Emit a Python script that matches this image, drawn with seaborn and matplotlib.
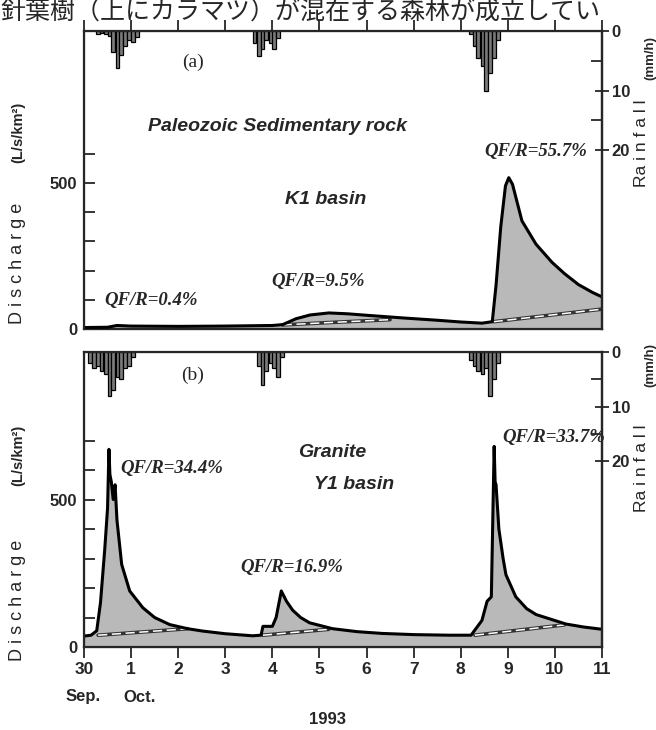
import numpy as np
import matplotlib
matplotlib.use('Agg')
import matplotlib.pyplot as plt
import seaborn as sns

sns.set_style('ticks')
plt.rcParams['font.family'] = ['Liberation Sans', 'DejaVu Sans']

# ---- DATA ----
# x = days after 30 Sep 1993 00:00

# (a) K1 basin discharge (L/s/km2)
k1_day = [0.0, 0.5, 0.7, 1.0, 2.0, 3.0, 4.0, 4.22, 4.5, 4.8, 5.2, 5.6, 6.0, 6.76, 7.5, 8.0,
          8.45, 8.67, 8.75, 8.85, 8.95, 9.02, 9.1, 9.3, 9.6, 9.94, 10.2, 10.5, 10.8, 11.0]
k1_q = [5, 6, 12, 10, 9, 10, 12, 15, 35, 48, 55, 52, 47, 38, 30, 24,
        20, 25, 150, 350, 490, 518, 495, 370, 290, 228, 190, 152, 125, 110]
# baseflow separation lines (a)
k1_sep1_day = [4.22, 5.2, 6.5]
k1_sep1_q = [14, 22, 32]
k1_sep2_day = [8.7, 11.0]
k1_sep2_q = [25, 68]

# (b) Y1 basin discharge (L/s/km2)
y1_day = [0.0, 0.15, 0.27, 0.35, 0.44, 0.50, 0.53, 0.55, 0.58, 0.62, 0.66, 0.70, 0.80, 0.97,
          1.25, 1.5, 1.82, 2.2, 2.52, 3.0, 3.58, 3.76, 3.8, 4.0, 4.08, 4.19, 4.3, 4.43, 4.6,
          4.79, 5.28, 5.8, 6.33, 7.0, 7.75, 8.22, 8.45, 8.56, 8.65, 8.71, 8.73, 8.75, 8.81,
          8.9, 8.96, 9.17, 9.4, 9.6, 10.23, 10.6, 11.0]
y1_q = [37, 40, 55, 150, 330, 470, 670, 585, 560, 500, 550, 430, 280, 190,
        133, 100, 76, 62, 54, 45, 38, 40, 70, 70, 100, 190, 155, 125, 100,
        82, 62, 52, 46, 42, 40, 40, 90, 155, 170, 680, 560, 550, 400,
        300, 245, 170, 130, 110, 78, 68, 60]
y1_sep1_day = [0.3, 2.2]
y1_sep1_q = [40, 62]
y1_sep2_day = [3.8, 5.2]
y1_sep2_q = [40, 60]
y1_sep3_day = [8.3, 10.2]
y1_sep3_q = [40, 75]

# rainfall (mm/h), 2-hour blocks, block start day
rain_a_day = [0.25, 0.33, 0.42, 0.50, 0.58, 0.67, 0.75, 0.83, 0.92, 1.00, 1.08,
              3.58, 3.67, 3.75, 3.83, 3.92, 4.00, 4.08,
              8.17, 8.25, 8.33, 8.42, 8.50, 8.58, 8.67, 8.75]
rain_a_mm = [0.5, 0.3, 0.5, 0.8, 3.5, 6.2, 4.0, 2.5, 1.5, 1.8, 1.0,
             2.0, 4.2, 3.0, 1.5, 2.0, 3.0, 1.2,
             0.5, 2.5, 4.5, 5.8, 10.0, 7.0, 4.5, 1.5]
rain_b_day = [0.08, 0.17, 0.25, 0.33, 0.42, 0.50, 0.58, 0.67, 0.75, 0.83, 0.92, 1.00,
              3.67, 3.75, 3.83, 3.92, 4.00, 4.08, 4.17,
              8.17, 8.25, 8.33, 8.42, 8.50, 8.58, 8.67, 8.75]
rain_b_mm = [2.0, 3.0, 2.5, 3.5, 4.0, 8.0, 7.0, 4.5, 5.0, 3.0, 2.5, 1.0,
             2.5, 6.0, 3.5, 2.0, 3.0, 4.5, 1.0,
             1.5, 2.5, 3.5, 4.0, 3.0, 8.0, 5.0, 2.0]

day_ticks = list(range(12))
day_labels = ['30', '1', '2', '3', '4', '5', '6', '7', '8', '9', '10', '11']

W, H = 656, 730
fig = plt.figure(figsize=(W / 100, H / 100), dpi=100)


def px_axes(left, top, right, bottom):
    return fig.add_axes([left / W, 1 - bottom / H, (right - left) / W, (bottom - top) / H])


def draw_panel(ax, day, q, seps, r_day, r_mm, qmax, rmax, minor_max):
    ax.fill_between(day, 0, q, color='#b9b9b9', lw=0, zorder=1)
    sns.lineplot(x=day, y=q, ax=ax, color='black', lw=2.2, zorder=3, sort=False)
    for sd, sq in seps:
        ax.plot(sd, sq, color='#333333', lw=2.6, zorder=2)
        ax.plot(sd, sq, color='white', lw=1.1, ls=(0, (6, 3)), zorder=2)
    ax.set_xlim(0, 11)
    ax.set_ylim(0, qmax)
    ax.set_yticks([0, 500])
    ax.set_yticklabels(['0', '500'], fontweight='bold', fontsize=12)
    ax.set_yticks(list(range(100, minor_max + 1, 100)), minor=True)
    ax.tick_params(axis='y', which='both', direction='in', length=8, width=1.3, pad=5,
                   left=True, right=False)
    for s in ax.spines.values():
        s.set_linewidth(1.6)
    ax.set_xlabel('')
    ax.set_ylabel('')

    ax2 = ax.twinx()
    ax2.bar(r_day, r_mm, width=0.083, align='edge', color='#7a7a7a',
            edgecolor='black', linewidth=0.9)
    ax2.set_ylim(rmax, 0)
    ax2.set_yticks([0, 10, 20])
    ax2.set_yticklabels(['0', '10', '20'], fontweight='bold', fontsize=12)
    ax2.set_yticks([5, 15], minor=True)
    ax2.tick_params(axis='y', which='major', direction='inout', length=10, width=1.3, pad=2)
    ax2.tick_params(axis='y', which='minor', direction='in', length=8, width=1.3)
    ax2.spines['right'].set_linewidth(1.6)
    return ax2


# (a)
ax_a = px_axes(84, 31, 602, 329)
draw_panel(ax_a, k1_day, k1_q, [(k1_sep1_day, k1_sep1_q), (k1_sep2_day, k1_sep2_q)],
           rain_a_day, rain_a_mm, 1020, 50, 600)
ax_a.set_xticks(day_ticks)
ax_a.tick_params(axis='x', which='both', top=True, bottom=False, labeltop=False,
                 labelbottom=False, direction='out', length=8, width=1.3)

# (b)
ax_b = px_axes(84, 352, 602, 647)
draw_panel(ax_b, y1_day, y1_q, [(y1_sep1_day, y1_sep1_q), (y1_sep2_day, y1_sep2_q),
                                 (y1_sep3_day, y1_sep3_q)],
           rain_b_day, rain_b_mm, 1000, 54, 700)
ax_b.set_xticks(day_ticks)
ax_b.set_xticklabels(day_labels, fontweight='bold', fontsize=12.5)
ax_b.tick_params(axis='x', which='both', top=False, bottom=True, direction='out',
                 length=8, width=1.3, pad=3)

# annotations
serif_bi = dict(family='Liberation Serif', fontweight='bold', style='italic', fontsize=13.5,
                ha='center', va='center')
sans_bi = dict(fontweight='bold', style='italic', fontsize=14, ha='center', va='center')

ax_a.text(2.31, 914, '(a)', family='Liberation Serif', fontsize=14, ha='center', va='center')
ax_a.text(4.11, 692, 'Paleozoic Sedimentary rock', **sans_bi)
ax_a.text(5.13, 442, 'K1 basin', **sans_bi)
ax_a.text(9.6, 606, 'QF/R=55.7%', **serif_bi)
ax_a.text(4.98, 164, 'QF/R=9.5%', **serif_bi)
ax_a.text(1.42, 99, 'QF/R=0.4%', **serif_bi)

ax_b.text(2.31, 922, '(b)', family='Liberation Serif', fontsize=14, ha='center', va='center')
ax_b.text(5.28, 660, 'Granite', **sans_bi)
ax_b.text(5.74, 551, 'Y1 basin', **sans_bi)
ax_b.text(1.86, 605, 'QF/R=34.4%', **serif_bi)
ax_b.text(4.41, 269, 'QF/R=16.9%', **serif_bi)
ax_b.text(9.98, 711, 'QF/R=33.7%', **serif_bi)

# axis titles
for yc_d, yc_u in [(263, 132), (600, 455)]:
    fig.text(18 / W, 1 - yc_d / H, 'D i s c h a r g e', rotation=90, fontsize=13,
             ha='center', va='center')
    fig.text(18 / W, 1 - yc_u / H, '(L/s/km²)', rotation=90, fontsize=10.5,
             fontweight='bold', ha='center', va='center')
for yc_r, yc_u in [(143, 58), (468, 365)]:
    fig.text(642 / W, 1 - yc_r / H, 'Ra i n f a l l', rotation=90, fontsize=12.5,
             ha='center', va='center')
    fig.text(650 / W, 1 - yc_u / H, '(mm/h)', rotation=90, fontsize=9.5,
             fontweight='bold', ha='center', va='center')

fig.text(83 / W, 1 - 697 / H, 'Sep.', fontsize=12, fontweight='bold', ha='center', va='center')
fig.text(140 / W, 1 - 697 / H, 'Oct.', fontsize=12, fontweight='bold', ha='center', va='center')
fig.text(327 / W, 1 - 720 / H, '1993', fontsize=12, fontweight='bold', ha='center', va='center')

# page text from the scan, just above the chart
fig.text(0, 1 - 12 / H, '針葉樹（上にカラマツ）が混在する森林が成立してい', fontsize=18,
         family=['Noto Sans CJK JP', 'DejaVu Sans'], ha='left', va='center')

fig.savefig('out.png', dpi=100)
